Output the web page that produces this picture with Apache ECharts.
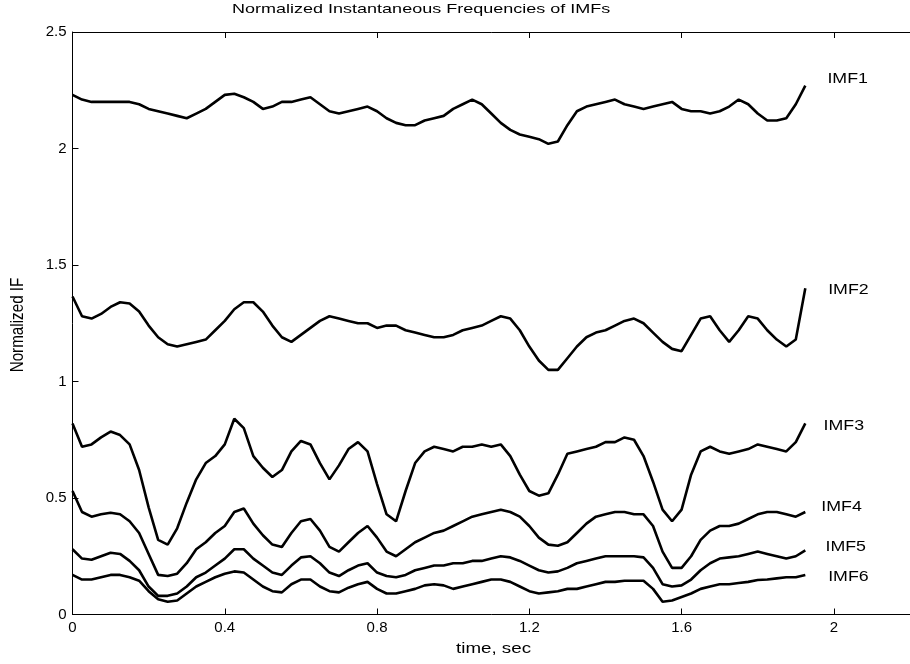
<!DOCTYPE html>
<html>
<head>
<meta charset="utf-8">
<script src="https://cdn.jsdelivr.net/npm/echarts@6/dist/echarts.min.js"></script>
<style>
html,body{margin:0;padding:0;background:#fff;overflow:hidden;}
#chart{width:910px;height:664px;}
</style>
</head>
<body>
<div id="chart"></div>
<script>
// ---- data ----
const timeStep = 0.025; // sampling step of the IF curves, seconds
const imf1 = [2.23,2.21,2.20,2.20,2.20,2.20,2.20,2.19,2.17,2.16,2.15,2.14,2.13,2.15,2.17,2.20,2.23,2.235,2.22,2.20,2.17,2.18,2.20,2.20,2.21,2.22,2.19,2.16,2.15,2.16,2.17,2.18,2.16,2.13,2.11,2.10,2.10,2.12,2.13,2.14,2.17,2.19,2.21,2.19,2.15,2.11,2.08,2.06,2.05,2.04,2.02,2.03,2.10,2.16,2.18,2.19,2.20,2.21,2.19,2.18,2.17,2.18,2.19,2.20,2.17,2.16,2.16,2.15,2.16,2.18,2.21,2.19,2.15,2.12,2.12,2.13,2.19,2.27];
const imf2 = [1.365,1.28,1.27,1.29,1.32,1.34,1.335,1.30,1.24,1.19,1.16,1.15,1.16,1.17,1.18,1.22,1.26,1.31,1.34,1.34,1.30,1.24,1.19,1.17,1.20,1.23,1.26,1.28,1.27,1.26,1.25,1.25,1.23,1.24,1.24,1.22,1.21,1.20,1.19,1.19,1.20,1.22,1.23,1.24,1.26,1.28,1.27,1.22,1.15,1.09,1.05,1.05,1.10,1.15,1.19,1.21,1.22,1.24,1.26,1.27,1.25,1.21,1.17,1.14,1.13,1.20,1.27,1.28,1.22,1.17,1.22,1.28,1.27,1.22,1.18,1.15,1.18,1.40];
const imf3 = [0.82,0.72,0.73,0.76,0.785,0.77,0.73,0.62,0.46,0.32,0.30,0.37,0.48,0.58,0.65,0.68,0.73,0.84,0.80,0.68,0.63,0.59,0.62,0.70,0.745,0.73,0.65,0.58,0.64,0.71,0.74,0.70,0.56,0.43,0.40,0.53,0.65,0.70,0.72,0.71,0.70,0.72,0.72,0.73,0.72,0.73,0.68,0.60,0.53,0.51,0.52,0.60,0.69,0.70,0.71,0.72,0.74,0.74,0.76,0.75,0.68,0.57,0.45,0.40,0.45,0.60,0.70,0.72,0.70,0.69,0.70,0.71,0.73,0.72,0.71,0.70,0.74,0.82];
const imf4 = [0.53,0.44,0.42,0.43,0.437,0.43,0.40,0.35,0.26,0.17,0.165,0.175,0.22,0.28,0.31,0.35,0.38,0.44,0.455,0.39,0.34,0.30,0.29,0.35,0.40,0.41,0.36,0.29,0.27,0.31,0.35,0.38,0.33,0.27,0.25,0.28,0.31,0.33,0.35,0.36,0.38,0.40,0.42,0.43,0.44,0.45,0.44,0.42,0.38,0.33,0.30,0.295,0.31,0.35,0.39,0.42,0.43,0.44,0.44,0.43,0.43,0.38,0.27,0.20,0.20,0.25,0.32,0.36,0.38,0.38,0.39,0.41,0.43,0.44,0.44,0.43,0.42,0.44];
const imf5 = [0.28,0.24,0.235,0.25,0.265,0.26,0.23,0.19,0.12,0.08,0.08,0.09,0.12,0.16,0.18,0.21,0.24,0.28,0.28,0.24,0.21,0.18,0.17,0.21,0.245,0.25,0.22,0.18,0.165,0.19,0.21,0.22,0.18,0.165,0.16,0.17,0.19,0.20,0.21,0.21,0.22,0.22,0.23,0.23,0.24,0.25,0.245,0.23,0.21,0.19,0.18,0.185,0.20,0.22,0.23,0.24,0.25,0.25,0.25,0.25,0.245,0.20,0.13,0.12,0.125,0.15,0.19,0.22,0.24,0.245,0.25,0.26,0.27,0.26,0.25,0.24,0.25,0.275];
const imf6 = [0.17,0.15,0.15,0.16,0.17,0.17,0.16,0.145,0.10,0.065,0.055,0.06,0.09,0.12,0.14,0.16,0.175,0.185,0.18,0.15,0.12,0.10,0.095,0.13,0.15,0.15,0.12,0.10,0.095,0.115,0.13,0.14,0.11,0.09,0.09,0.10,0.11,0.125,0.13,0.125,0.11,0.12,0.13,0.14,0.15,0.15,0.14,0.12,0.10,0.09,0.095,0.10,0.11,0.11,0.12,0.13,0.14,0.14,0.145,0.145,0.145,0.11,0.055,0.06,0.075,0.09,0.11,0.12,0.13,0.13,0.135,0.14,0.148,0.15,0.155,0.16,0.16,0.17];
const seriesNames = ['IMF1','IMF2','IMF3','IMF4','IMF5','IMF6'];
const labelX = [1.983,1.985,1.973,1.967,1.978,1.985];
const labelY = [2.296,1.394,0.807,0.462,0.291,0.162];
const xTicks = {min:0, max:2.2, interval:0.4};
const yTicks = {min:0, max:2.5, interval:0.5};
const titleText = 'Normalized Instantaneous Frequencies of IMFs';
const xName = 'time, sec';
const yName = 'Normalized IF';

// ---- chart ----
const allSeries = [imf1, imf2, imf3, imf4, imf5, imf6];
function toPairs(vals){
  return vals.map((v,i)=>[+(i*timeStep).toFixed(4), v]);
}
const chart = echarts.init(document.getElementById('chart'), null, {renderer:'canvas'});
const axisFont = {fontFamily:'Liberation Sans', fontSize:15, color:'#000'};
const lineStyleAxis = {color:'#000', width:1};
const option = {
  animation:false,
  backgroundColor:'#fff',
  grid:{left:72.5, top:32, width:864.6, height:582.5, containLabel:false},
  xAxis:[
    {type:'value', min:xTicks.min, max:xTicks.max, interval:xTicks.interval, position:'bottom',
     axisLine:{show:true, onZero:false, lineStyle:lineStyleAxis},
     axisTick:{show:true, inside:true, length:6, lineStyle:lineStyleAxis},
     axisLabel:Object.assign({margin:6, showMaxLabel:false}, axisFont),
     splitLine:{show:false}},
    {type:'value', min:xTicks.min, max:xTicks.max, interval:xTicks.interval, position:'top',
     axisLine:{show:true, onZero:false, lineStyle:lineStyleAxis},
     axisTick:{show:true, inside:true, length:6, lineStyle:lineStyleAxis},
     axisLabel:{show:false}, splitLine:{show:false}}
  ],
  yAxis:[
    {type:'value', min:yTicks.min, max:yTicks.max, interval:yTicks.interval, position:'left',
     axisLine:{show:true, onZero:false, lineStyle:lineStyleAxis},
     axisTick:{show:true, inside:true, length:6, lineStyle:lineStyleAxis},
     axisLabel:Object.assign({margin:6}, axisFont),
     splitLine:{show:false}}
  ],
  series: allSeries.map((vals, k)=>({
    name:seriesNames[k], type:'line', xAxisIndex:0, yAxisIndex:0,
    data:toPairs(vals), showSymbol:false, symbol:'none', smooth:false,
    lineStyle:{color:'#000', width:2.6}, clip:false
  }))
};
chart.setOption(option);

const graphics = [
  {type:'text', x:232, y:2, scaleX:1.385, scaleY:1.05, silent:true,
   style:{text:titleText, fontFamily:'Liberation Sans', fontSize:13, fill:'#000', align:'left', verticalAlign:'top'}},
  {type:'text', x:456, y:649, scaleX:1.34, scaleY:1.0, silent:true,
   style:{text:xName, fontFamily:'Liberation Sans', fontSize:14, fill:'#000', align:'left', verticalAlign:'middle'}},
  {type:'text', x:18.5, y:325, rotation:Math.PI/2, scaleX:1.17, scaleY:1.38, silent:true,
   style:{text:yName, fontFamily:'Liberation Sans', fontSize:13, fill:'#000', align:'center', verticalAlign:'middle'}}
];
seriesNames.forEach((nm, k)=>{
  const p = chart.convertToPixel({xAxisIndex:0, yAxisIndex:0}, [labelX[k], labelY[k]]);
  graphics.push({type:'text', x:p[0], y:p[1], scaleX:1.27, silent:true,
    style:{text:nm, fontFamily:'Liberation Sans', fontSize:14, fill:'#000', align:'left', verticalAlign:'middle'}});
});
chart.setOption({graphic:graphics});
</script>
</body>
</html>
